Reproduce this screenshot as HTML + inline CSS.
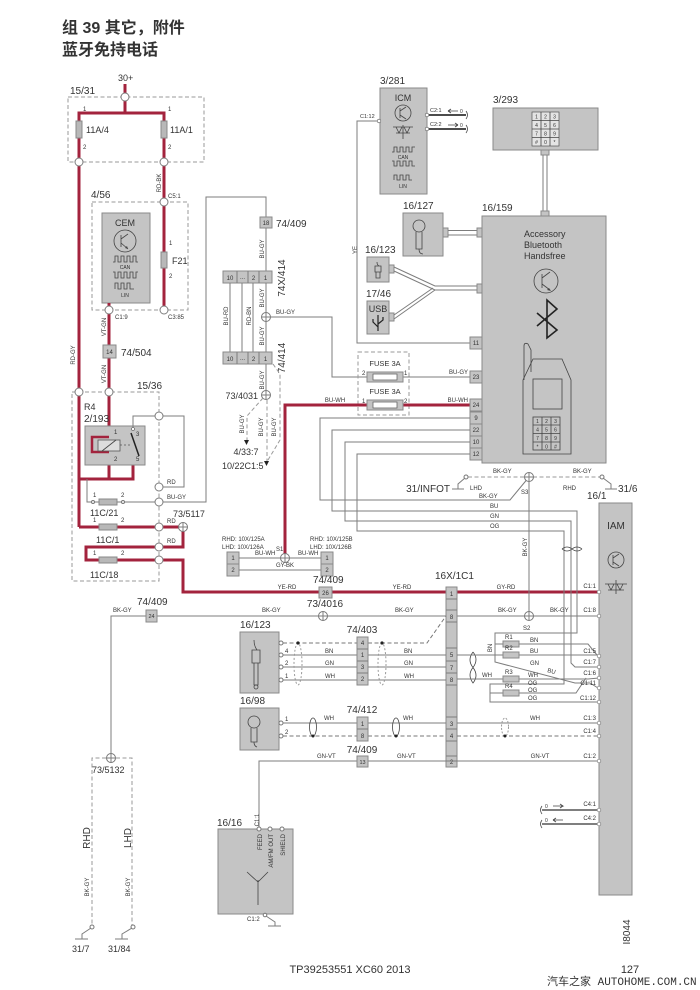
<!DOCTYPE html>
<html><head><meta charset="utf-8"><style>
html,body{margin:0;padding:0;background:#fff;width:700px;height:990px;overflow:hidden}
svg{display:block}
</style></head><body>
<svg width="700" height="990" viewBox="0 0 700 990" xmlns="http://www.w3.org/2000/svg" font-family="Liberation Sans, Noto Sans CJK SC, sans-serif">
<style>
.g{stroke:#7d7d7d;stroke-width:1;fill:none}
.r{stroke:#a3233d;stroke-width:3;fill:none}
.d{stroke:#9a9a9a;stroke-width:1;fill:none;stroke-dasharray:4 2.5}
.bx{fill:#c4c4c4;stroke:#8a8a8a;stroke-width:1}
.c{fill:#fff;stroke:#7d7d7d;stroke-width:1}
.k{stroke:#444;stroke-width:0.8;fill:none}
.th{stroke:#333;stroke-width:1.8;fill:none}
text{fill:#333}
.s{font-size:6px}
.s7{font-size:7px}
.m{font-size:10px}
</style>

<!-- Title -->
<text x="62" y="33" font-size="16" font-weight="bold" fill="#111">组 39 其它，附件</text>
<text x="62" y="55" font-size="16" font-weight="bold" fill="#111">蓝牙免持电话</text>

<!-- 15/31 -->
<text x="118" y="81" font-size="9">30+</text>
<rect x="68" y="97" width="136" height="65" class="d"/>
<text x="70" y="94" class="m">15/31</text>
<path class="r" d="M125,84V113M79,527V113H164V310"/>
<rect x="76" y="121" width="6" height="17" fill="#b8b8b8" stroke="#888"/>
<rect x="161" y="121" width="6" height="17" fill="#b8b8b8" stroke="#888"/>
<text x="83" y="111" class="s">1</text><text x="83" y="149" class="s">2</text>
<text x="86" y="133" font-size="9">11A/4</text>
<text x="168" y="111" class="s">1</text><text x="168" y="149" class="s">2</text>
<text x="170" y="133" font-size="9">11A/1</text>
<circle class="c" cx="125" cy="97" r="4"/>
<circle class="c" cx="79" cy="162" r="4"/>
<circle class="c" cx="164" cy="162" r="4"/>
<text transform="rotate(-90 161 183)" x="161" y="183" text-anchor="middle" class="s">RD-BK</text>

<!-- CEM 4/56 -->
<rect x="92" y="202" width="96" height="108" class="d"/>
<text x="91" y="198" class="m">4/56</text>
<rect x="102" y="213" width="48" height="90" class="bx"/>
<text x="125" y="226" font-size="9" text-anchor="middle">CEM</text>
<circle cx="125" cy="241" r="11" class="k"/>
<path class="k" d="M121,235V247M121,239L128,234M121,243L128,249"/>
<path d="M128,249l-3,-1l2,-2z" fill="#444"/>
<path class="k" d="M113,262h2v-6h3v6h3v-6h3v6h3v-6h3v6h3v-6h3v6h2"/>
<text x="125" y="269" font-size="5" text-anchor="middle">CAN</text>
<path class="k" d="M113,272h2v6h3v-6h3v6h3v-6h3v6h3v-6h3v6h3v-6h2"/>
<path class="k" d="M115,289v-6h3v6h3v-6h3v6h3v-6h3v6h4"/>
<text x="125" y="297" font-size="5" text-anchor="middle">LIN</text>
<rect x="161" y="252" width="6" height="16" fill="#b8b8b8" stroke="#888"/>
<text x="169" y="245" class="s">1</text><text x="169" y="278" class="s">2</text>
<text x="172" y="264" font-size="9">F21</text>
<circle class="c" cx="164" cy="202" r="4"/>
<text x="168" y="198" class="s">C5:1</text>
<circle class="c" cx="164" cy="310" r="4"/>
<text x="168" y="319" class="s">C3:85</text>

<!-- VT-GN wire and relay -->
<path class="r" d="M109,303V479M79,479H133V462"/>
<circle class="c" cx="109" cy="310" r="4"/>
<text x="115" y="319" class="s">C1:9</text>
<text transform="rotate(-90 106 327)" x="106" y="327" text-anchor="middle" class="s">VT-GN</text>
<text transform="rotate(-90 106 374)" x="106" y="374" text-anchor="middle" class="s">VT-GN</text>
<text transform="rotate(-90 75 355)" x="75" y="355" text-anchor="middle" class="s">RD-GY</text>
<rect x="103" y="345" width="13" height="13" class="bx"/>
<text x="109.5" y="354" font-size="6" text-anchor="middle">14</text>
<text x="121" y="356" class="m">74/504</text>

<rect x="72" y="392" width="87" height="189" class="d"/>
<text x="137" y="389" class="m">15/36</text>
<circle class="c" cx="79" cy="392" r="4"/>
<circle class="c" cx="109" cy="392" r="4"/>
<text x="84" y="410" font-size="9">R4</text>
<text x="84" y="422" class="m">2/193</text>
<rect x="85" y="426" width="60" height="39" class="bx"/>
<path class="r" d="M109,437H92V452H109" style="stroke-width:2.5"/>
<rect x="98" y="440" width="22" height="11" fill="#ddd" stroke="#555" stroke-width="0.8"/>
<path class="k" d="M102,451L116,440"/>
<path d="M120,445H131" stroke="#555" stroke-width="0.8" stroke-dasharray="2 2"/>
<path stroke="#222" stroke-width="1.5" d="M131,433L139,456"/>
<text x="114" y="434" class="s">1</text><text x="114" y="461" class="s">2</text>
<text x="136" y="436" class="s">3</text><text x="136" y="461" class="s">5</text>
<path class="g" d="M133,428V416H155M163,416H184V487H163"/>
<circle cx="133" cy="429" r="1.5" fill="#fff" stroke="#555" stroke-width="0.6"/>
<circle class="c" cx="159" cy="416" r="4"/>
<circle class="c" cx="159" cy="487" r="4"/>
<text x="167" y="484" class="s">RD</text>
<!-- 11C/21 -->
<path class="g" d="M87,479V502H155M163,502H206V197H266V217"/>
<rect x="99" y="499" width="18" height="6" fill="#b8b8b8" stroke="#888"/>
<circle cx="93" cy="502" r="1.5" fill="#fff" stroke="#777"/>
<circle cx="123" cy="502" r="1.5" fill="#fff" stroke="#777"/>
<text x="93" y="497" class="s">1</text><text x="121" y="497" class="s">2</text>
<text x="90" y="516" font-size="9">11C/21</text>
<circle class="c" cx="159" cy="502" r="4"/>
<text x="167" y="499" class="s">BU-GY</text>
<!-- 11C/1 -->
<path class="r" d="M79,527H155M163,527H183V547H163M155,547H86V560H155M163,560H183V592H599"/>
<rect x="99" y="524" width="18" height="6" fill="#b8b8b8" stroke="#888"/>
<text x="93" y="522" class="s">1</text><text x="121" y="522" class="s">2</text>
<text x="96" y="543" font-size="9">11C/1</text>
<circle class="c" cx="159" cy="527" r="4"/>
<text x="167" y="523" class="s">RD</text>
<circle class="c" cx="159" cy="547" r="4"/>
<text x="167" y="543" class="s">RD</text>
<rect x="99" y="557" width="18" height="6" fill="#b8b8b8" stroke="#888"/>
<text x="93" y="555" class="s">1</text><text x="121" y="555" class="s">2</text>
<text x="90" y="578" font-size="9">11C/18</text>
<circle class="c" cx="159" cy="560" r="4"/>
<circle cx="183" cy="527" r="4.5" fill="#fff" stroke="#777"/><path class="g" d="M178.5,527h9M183,522.5v9"/>
<text x="173" y="517" font-size="9">73/5117</text>

<!-- 74X/414 area -->
<rect x="260" y="217" width="12" height="11" class="bx"/>
<text x="266" y="225" font-size="6" text-anchor="middle">18</text>
<text x="276" y="227" class="m">74/409</text>
<path class="g" d="M266,228V271"/>
<text transform="rotate(-90 264 249)" x="264" y="249" text-anchor="middle" class="s">BU-GY</text>
<rect x="223" y="271" width="49" height="12" class="bx"/>
<path class="g" d="M237,271v12M248,271v12M259,271v12"/>
<text x="230" y="280" font-size="6" text-anchor="middle">10</text>
<text x="242.5" y="279" font-size="6" text-anchor="middle">...</text>
<text x="253.5" y="280" font-size="6" text-anchor="middle">2</text>
<text x="265.5" y="280" font-size="6" text-anchor="middle">1</text>
<text transform="rotate(-90 285 278)" x="285" y="278" text-anchor="middle" class="m">74X/414</text>
<path class="g" d="M230,283V352M242,283V352M253,283V352M266,283V352"/>
<text transform="rotate(-90 228 316)" x="228" y="316" text-anchor="middle" class="s">BU-RD</text>
<text transform="rotate(-90 251 316)" x="251" y="316" text-anchor="middle" class="s">RD-BN</text>
<text transform="rotate(-90 264 298)" x="264" y="298" text-anchor="middle" class="s">BU-GY</text>
<text transform="rotate(-90 264 336)" x="264" y="336" text-anchor="middle" class="s">BU-GY</text>
<path class="g" d="M266,317H332V377H367"/>
<circle cx="266" cy="317" r="4.5" fill="#fff" stroke="#777"/><path class="g" d="M261.5,317h9M266,312.5v9"/>
<text x="276" y="314" class="s">BU-GY</text>
<rect x="223" y="352" width="49" height="12" class="bx"/>
<path class="g" d="M237,352v12M248,352v12M259,352v12"/>
<text x="230" y="361" font-size="6" text-anchor="middle">10</text>
<text x="242.5" y="360" font-size="6" text-anchor="middle">...</text>
<text x="253.5" y="361" font-size="6" text-anchor="middle">2</text>
<text x="265.5" y="361" font-size="6" text-anchor="middle">1</text>
<text transform="rotate(-90 285 358)" x="285" y="358" text-anchor="middle" class="m">74/414</text>
<path class="g" d="M266,364V391"/>
<text transform="rotate(-90 264 380)" x="264" y="380" text-anchor="middle" class="s">BU-GY</text>
<circle cx="266" cy="395" r="4.5" fill="#fff" stroke="#777"/><path class="g" d="M261.5,395h9M266,390.5v9"/>
<text x="258" y="399" font-size="9" text-anchor="end">73/4031</text>
<path class="d" d="M263,398L247,416V441M267,400V461M273,364L280,374V440L268,460"/>
<path d="M244,440h5l-2.5,5z" fill="#222"/>
<path d="M264,461h5l-2.5,5z" fill="#222"/>
<text transform="rotate(-90 244 424)" x="244" y="424" text-anchor="middle" class="s">BU-GY</text>
<text transform="rotate(-90 263 427)" x="263" y="427" text-anchor="middle" class="s">BU-GY</text>
<text transform="rotate(-90 276 427)" x="276" y="427" text-anchor="middle" class="s">BU-GY</text>
<text x="246" y="455" font-size="9" text-anchor="middle">4/33:7</text>
<text x="222" y="469" font-size="9">10/22C1:5</text>

<!-- Fuses 3A -->
<rect x="358" y="352" width="51" height="63" class="d"/>
<text x="385" y="366" font-size="7.5" text-anchor="middle">FUSE 3A</text>
<path class="g" d="M403,377H470"/>
<rect x="367" y="372" width="36" height="10" class="bx"/>
<rect x="373" y="374" width="24" height="6" fill="#fff" stroke="#666" stroke-width="0.8"/>
<text x="362" y="375" class="s">2</text><text x="404" y="375" class="s">1</text>
<text x="385" y="394" font-size="7.5" text-anchor="middle">FUSE 3A</text>
<path class="r" d="M285,557V405H470"/>
<rect x="367" y="400" width="36" height="10" class="bx"/>
<rect x="373" y="402" width="24" height="6" fill="#fff" stroke="#666" stroke-width="0.8"/>
<text x="362" y="403" class="s">1</text><text x="404" y="403" class="s">2</text>
<text x="335" y="402" class="s" text-anchor="middle">BU-WH</text>
<text x="468" y="402" class="s" text-anchor="end">BU-WH</text>
<text x="468" y="374" class="s" text-anchor="end">BU-GY</text>

<!-- ICM -->
<text x="380" y="84" class="m">3/281</text>
<rect x="380" y="88" width="47" height="106" class="bx"/>
<text x="403" y="101" font-size="9" text-anchor="middle">ICM</text>
<circle cx="403" cy="113" r="8" class="k"/>
<path class="k" d="M400,108V118M400,111L406,107M400,115L406,119"/>
<path class="k" d="M393,127h20M396,127l3,6l3,-6M404,127l3,6l3,-6M396,133h14M403,125v14"/>
<path class="k" d="M392,152h2v-5h3v5h3v-5h3v5h3v-5h3v5h3v-5h3"/>
<text x="403" y="159" font-size="5" text-anchor="middle">CAN</text>
<path class="k" d="M392,161h2v5h3v-5h3v5h3v-5h3v5h3v-5h3v5h3"/>
<path class="k" d="M394,180v-5h3v5h3v-5h3v5h3v-5h3v5h3"/>
<text x="403" y="188" font-size="5" text-anchor="middle">LIN</text>
<path class="th" d="M427,115H466M427,129H466"/>
<circle cx="427" cy="115" r="1.8" fill="#fff" stroke="#555" stroke-width="0.6"/>
<circle cx="427" cy="129" r="1.8" fill="#fff" stroke="#555" stroke-width="0.6"/>
<text x="430" y="112" font-size="5.5">C2:1</text>
<text x="430" y="126" font-size="5.5">C2:2</text>
<path class="k" d="M448,111h10M448,111l3,-2M448,111l3,2M448,125h10M458,125l-3,-2M458,125l-3,2"/>
<text x="460" y="113" font-size="5">0</text><text x="460" y="127" font-size="5">0</text>
<path class="k" d="M466,111q3,4 0,8M466,125q3,4 0,8"/>
<circle cx="379" cy="121" r="1.8" fill="#fff" stroke="#555" stroke-width="0.6"/>
<text x="360" y="118" font-size="5.5">C1:12</text>
<path class="g" d="M377,121H357V343H470"/>
<text transform="rotate(-90 357 250)" x="357" y="250" text-anchor="middle" class="s">YE</text>

<!-- 3/293 keypad -->
<text x="493" y="103" class="m">3/293</text>
<rect x="493" y="108" width="105" height="42" class="bx"/>
<rect x="532" y="112" width="27" height="34" fill="#e4e4e4" stroke="#555" stroke-width="0.7"/>
<path class="k" d="M541,112v34M550,112v34M532,120.5h27M532,129h27M532,137.5h27"/>
<g font-size="5" text-anchor="middle">
<text x="536.5" y="118.5">1</text><text x="545.5" y="118.5">2</text><text x="554.5" y="118.5">3</text>
<text x="536.5" y="127">4</text><text x="545.5" y="127">5</text><text x="554.5" y="127">6</text>
<text x="536.5" y="135.5">7</text><text x="545.5" y="135.5">8</text><text x="554.5" y="135.5">9</text>
<text x="536.5" y="144">#</text><text x="545.5" y="144">0</text><text x="554.5" y="144">*</text>
</g>
<rect x="541" y="150" width="8" height="5" class="bx"/>
<path class="g" d="M543,155V211M547,155V211"/>

<!-- 16/159 -->
<text x="482" y="211" class="m">16/159</text>
<rect x="482" y="216" width="124" height="247" class="bx"/>
<rect x="541" y="211" width="8" height="5" class="bx"/>
<text x="524" y="237" font-size="9">Accessory</text>
<text x="524" y="248" font-size="9">Bluetooth</text>
<text x="524" y="259" font-size="9">Handsfree</text>
<circle cx="546" cy="281" r="12" class="k"/>
<path class="k" d="M542,274V288M542,278L550,272M542,284L550,290"/>
<path d="M551,291l-4,-1l2,-2z" fill="#444"/>
<path stroke="#222" stroke-width="1.6" fill="none" d="M537,313L557,330L547,338V300L557,309L537,326"/>
<path class="k" d="M524,380V346Q524,342 528,344L531,350V372"/>
<path class="k" d="M533,359H562L571,380V454H523V380Z"/>
<rect x="533" y="379" width="29" height="30" class="k"/>
<rect x="533" y="417" width="27" height="33" class="k"/>
<path class="k" d="M542,417v33M551,417v33M533,425h27M533,433.5h27M533,442h27"/>
<g font-size="5" text-anchor="middle">
<text x="537.5" y="423">1</text><text x="546.5" y="423">2</text><text x="555.5" y="423">3</text>
<text x="537.5" y="431.5">4</text><text x="546.5" y="431.5">5</text><text x="555.5" y="431.5">6</text>
<text x="537.5" y="440">7</text><text x="546.5" y="440">8</text><text x="555.5" y="440">9</text>
<text x="537.5" y="448.5">*</text><text x="546.5" y="448.5">0</text><text x="555.5" y="448.5">#</text>
</g>
<!-- pins -->
<g font-size="6" text-anchor="middle">
<rect x="470" y="337" width="12" height="12" class="bx"/><text x="476" y="345">11</text>
<rect x="470" y="371" width="12" height="12" class="bx"/><text x="476" y="379">23</text>
<rect x="470" y="399" width="12" height="12" class="bx"/><text x="476" y="407">24</text>
<rect x="470" y="412" width="12" height="12" class="bx"/><text x="476" y="420">9</text>
<rect x="470" y="424" width="12" height="12" class="bx"/><text x="476" y="432">22</text>
<rect x="470" y="436" width="12" height="12" class="bx"/><text x="476" y="444">10</text>
<rect x="470" y="448" width="12" height="12" class="bx"/><text x="476" y="456">12</text>
</g>

<!-- 16/127 mic -->
<text x="403" y="209" class="m">16/127</text>
<rect x="403" y="213" width="40" height="43" class="bx"/>
<circle cx="419" cy="226" r="6" class="k"/>
<path class="k" d="M416,232V249H422V232M419,249q0,5 4,5"/>
<rect x="443" y="228" width="5" height="9" class="bx"/>
<path class="g" d="M448,230.5H477M448,235H477"/>
<rect x="477" y="228" width="5" height="9" class="bx"/>
<!-- 16/123 top -->
<text x="365" y="253" class="m">16/123</text>
<rect x="367" y="257" width="22" height="25" class="bx"/>
<path class="k" d="M377,262q0,3 2,4M375,266h6v6h-6zM376,272h4v6h-4z"/>
<rect x="389" y="265" width="5" height="8" class="bx"/>
<!-- 17/46 USB -->
<text x="366" y="297" class="m">17/46</text>
<rect x="367" y="301" width="22" height="33" class="bx"/>
<text x="378" y="312" font-size="9" text-anchor="middle">USB</text>
<path stroke="#222" stroke-width="1.2" fill="none" d="M378,315V331M378,327L373,322V319M378,324L383,320V317"/>
<rect x="389" y="313" width="5" height="8" class="bx"/>
<path class="g" d="M394,267L435,286H477M394,271L435,290H477M394,315L433,288M394,319L435,290"/>
<rect x="477" y="284" width="5" height="9" class="bx"/>

<!-- pin wires from 16/159 -->
<path class="g" d="M470,418H320V500H510L529,477"/>
<path class="g" d="M470,430H332V511H577V633H495V662L575,683H590L598,688"/>
<path class="g" d="M470,442H345V521H571V663L575,667H599"/>
<path class="g" d="M470,454H357V531H564V684H490V702H599"/>
<text x="479" y="498" class="s">BK-GY</text>
<text x="490" y="508" class="s">BU</text>
<text x="490" y="518" class="s">GN</text>
<text x="490" y="528" class="s">OG</text>
<path class="k" d="M562,549q5,-4 10,0q5,4 10,0M562,549q5,4 10,0q5,-4 10,0"/>

<!-- ground line top of IAM -->
<path class="d" d="M468,477H600"/>
<circle cx="466" cy="477" r="2" fill="#fff" stroke="#777"/>
<circle cx="602" cy="477" r="2" fill="#fff" stroke="#777"/>
<path class="g" d="M465,478L458,484V489M452,489H464M603,478L611,484V489M605,489H617"/>
<text x="450" y="492" class="m" text-anchor="end">31/INFOT</text>
<text x="618" y="492" class="m">31/6</text>
<text x="493" y="473" class="s">BK-GY</text>
<text x="573" y="473" class="s">BK-GY</text>
<text x="470" y="490" class="s">LHD</text>
<text x="563" y="490" class="s">RHD</text>
<text x="521" y="494" class="s">S3</text>
<path class="g" d="M529,477V616"/>
<circle cx="529" cy="477" r="4.5" fill="#fff" stroke="#777"/><path class="g" d="M524.5,477h9M529,472.5v9"/>
<text transform="rotate(-90 527 547)" x="527" y="547" text-anchor="middle" class="s">BK-GY</text>

<!-- IAM -->
<text x="587" y="499" class="m">16/1</text>
<rect x="599" y="503" width="33" height="392" class="bx"/>
<text x="616" y="529" class="m" text-anchor="middle">IAM</text>
<circle cx="616" cy="560" r="8" class="k"/>
<path class="k" d="M613,555V565M613,558L619,554M613,562L619,566"/>
<path class="k" d="M605,584h22M608,584l3,6l3,-6M617,584l3,6l3,-6M608,590h16M616,580v14"/>

<!-- 10X connectors -->
<text x="222" y="541" font-size="6">RHD: 10X/125A</text>
<text x="222" y="549" font-size="6">LHD: 10X/126A</text>
<text x="310" y="541" font-size="6">RHD: 10X/125B</text>
<text x="310" y="549" font-size="6">LHD: 10X/126B</text>
<rect x="227" y="552" width="12" height="12" class="bx"/><rect x="227" y="564" width="12" height="12" class="bx"/>
<rect x="321" y="552" width="12" height="12" class="bx"/><rect x="321" y="564" width="12" height="12" class="bx"/>
<g font-size="6" text-anchor="middle">
<text x="233" y="560">1</text><text x="233" y="572">2</text><text x="327" y="560">1</text><text x="327" y="572">2</text>
</g>
<path class="g" d="M239,558H321M239,570H321"/>
<circle cx="285" cy="558" r="4.5" fill="#fff" stroke="#777"/><path class="g" d="M280.5,558h9M285,553.5v9"/>
<text x="255" y="555" class="s">BU-WH</text>
<text x="298" y="555" class="s">BU-WH</text>
<text x="276" y="551" class="s">S1</text>
<text x="285" y="567" class="s" text-anchor="middle">GY-BK</text>

<!-- main red labels -->
<text x="313" y="583" class="m">74/409</text>
<rect x="319" y="587" width="13" height="11" class="bx"/>
<text x="325.5" y="595" font-size="6" text-anchor="middle">26</text>
<text x="287" y="589" class="s" text-anchor="middle">YE-RD</text>
<text x="402" y="589" class="s" text-anchor="middle">YE-RD</text>
<text x="506" y="589" class="s" text-anchor="middle">GY-RD</text>

<!-- BK-GY y=616 -->
<path class="g" d="M111,754V616H599"/>
<rect x="146" y="610" width="11" height="12" class="bx"/>
<text x="151.5" y="618" font-size="5.5" text-anchor="middle">24</text>
<text x="137" y="605" class="m">74/409</text>
<text x="113" y="612" class="s">BK-GY</text>
<circle cx="323" cy="616" r="4.5" fill="#fff" stroke="#777"/><path class="g" d="M318.5,616h9M323,611.5v9"/>
<text x="325" y="607" class="m" text-anchor="middle">73/4016</text>
<text x="262" y="612" class="s">BK-GY</text>
<text x="395" y="612" class="s">BK-GY</text>
<text x="498" y="612" class="s">BK-GY</text>
<text x="550" y="612" class="s">BK-GY</text>
<circle cx="529" cy="616" r="4.5" fill="#fff" stroke="#777"/><path class="g" d="M524.5,616h9M529,611.5v9"/>
<text x="523" y="630" class="s">S2</text>

<!-- 73/5132 -->
<circle cx="111" cy="758" r="4.5" fill="#fff" stroke="#777"/><path class="g" d="M106.5,758h9M111,753.5v9"/>
<path class="d" d="M106,758H92V925M116,758H132V925"/>
<text x="92" y="773" font-size="9">73/5132</text>
<text transform="rotate(-90 90 838)" x="90" y="838" text-anchor="middle" class="m">RHD</text>
<text transform="rotate(-90 131 838)" x="131" y="838" text-anchor="middle" class="m">LHD</text>
<text transform="rotate(-90 89 887)" x="89" y="887" text-anchor="middle" class="s">BK-GY</text>
<text transform="rotate(-90 130 887)" x="130" y="887" text-anchor="middle" class="s">BK-GY</text>
<circle cx="92" cy="927" r="2" fill="#fff" stroke="#777"/>
<circle cx="133" cy="927" r="2" fill="#fff" stroke="#777"/>
<path class="g" d="M91,928L82,934V939M75,939H88M132,928L122,934V939M115,939H128"/>
<text x="72" y="952" font-size="9">31/7</text>
<text x="108" y="952" font-size="9">31/84</text>

<!-- 16X/1C1 column -->
<text x="435" y="579" class="m">16X/1C1</text>
<rect x="446" y="587" width="11" height="180" class="bx"/>
<path class="g" d="M446,599h11M446,610h11M446,622h11M446,648h11M446,661h11M446,673h11M446,685h11M446,717h11M446,729h11M446,741h11M446,756h11"/>
<g font-size="6" text-anchor="middle">
<text x="451.5" y="596">1</text><text x="451.5" y="619">8</text><text x="451.5" y="657">5</text>
<text x="451.5" y="670">7</text><text x="451.5" y="682">8</text><text x="451.5" y="726">3</text>
<text x="451.5" y="738">4</text><text x="451.5" y="764">2</text>
</g>

<!-- 16/123 lower -->
<text x="240" y="628" class="m">16/123</text>
<rect x="240" y="632" width="39" height="61" class="bx"/>
<path class="k" d="M254,640q0,6 3,10M252,650h8v13h-8zM254,663h4v22h-4z"/>
<circle cx="256" cy="687" r="2" class="k"/>
<path class="d" d="M283,643H357M368,643H427L446,616" style="stroke:#777"/>
<path class="g" d="M283,655H357M368,655H446M283,667H357M368,667H446M283,680H357M368,680H446"/>
<circle cx="281" cy="643" r="2" fill="#fff" stroke="#777"/>
<circle cx="281" cy="655" r="2" fill="#fff" stroke="#777"/>
<circle cx="281" cy="667" r="2" fill="#fff" stroke="#777"/>
<circle cx="281" cy="680" r="2" fill="#fff" stroke="#777"/>
<text x="285" y="653" class="s">4</text><text x="285" y="665" class="s">2</text><text x="285" y="678" class="s">1</text>
<ellipse cx="298" cy="664" rx="4" ry="21" class="d" style="stroke-dasharray:2 2"/>
<ellipse cx="382" cy="664" rx="4" ry="21" class="d" style="stroke-dasharray:2 2"/>
<circle cx="298" cy="643" r="1.6" fill="#222"/><circle cx="382" cy="643" r="1.6" fill="#222"/>
<text x="362" y="633" class="m" text-anchor="middle">74/403</text>
<rect x="357" y="637" width="11" height="48" class="bx"/>
<path class="g" d="M357,649h11M357,661h11M357,673h11"/>
<g font-size="6" text-anchor="middle">
<text x="362.5" y="645">4</text><text x="362.5" y="657">1</text><text x="362.5" y="669">3</text><text x="362.5" y="681">2</text>
</g>
<text x="325" y="653" class="s">BN</text><text x="325" y="665" class="s">GN</text><text x="325" y="678" class="s">WH</text>
<text x="404" y="653" class="s">BN</text><text x="404" y="665" class="s">GN</text><text x="404" y="678" class="s">WH</text>
<path class="k" d="M473,652q-6,8 0,15.5q6,8 0,15.5q-6,-8 0,-15.5q6,-8 0,-15.5"/>

<!-- right side resistor network -->
<path class="g" d="M495,644H588L597,655M457,655H599M457,679H588L599,678M490,693H576L586,678"/>
<path class="g" d="M457,723H599M259,829V761H599"/>
<rect x="503" y="641" width="16" height="6" class="bx"/>
<rect x="503" y="652" width="16" height="6" class="bx"/>
<rect x="503" y="676" width="16" height="6" class="bx"/>
<rect x="503" y="690" width="16" height="6" class="bx"/>
<text x="505" y="639" class="s">R1</text><text x="505" y="650" class="s">R2</text>
<text x="505" y="674" class="s">R3</text><text x="505" y="688" class="s">R4</text>
<text x="530" y="642" class="s">BN</text><text x="530" y="653" class="s">BU</text>
<text x="530" y="665" class="s">GN</text><text x="482" y="677" class="s">WH</text>
<text x="528" y="677" class="s">WH</text><text x="528" y="685" class="s">OG</text>
<text x="528" y="692" class="s">OG</text><text x="528" y="700" class="s">OG</text>
<text transform="rotate(15 547 672)" x="547" y="672" class="s">BU</text>
<text transform="rotate(-90 492 648)" x="492" y="648" text-anchor="middle" class="s">BN</text>
<text x="530" y="720" class="s">WH</text>
<text x="540" y="758" class="s" text-anchor="middle">GN-VT</text>
<!-- IAM pins -->
<g fill="#fff" stroke="#777" stroke-width="0.7">
<circle cx="599" cy="592" r="1.8"/><circle cx="599" cy="616" r="1.8"/><circle cx="599" cy="656" r="1.8"/>
<circle cx="599" cy="667" r="1.8"/><circle cx="599" cy="678" r="1.8"/><circle cx="599" cy="688" r="1.8"/>
<circle cx="599" cy="702" r="1.8"/><circle cx="599" cy="723" r="1.8"/><circle cx="599" cy="736" r="1.8"/>
<circle cx="599" cy="761" r="1.8"/><circle cx="599" cy="810" r="1.8"/><circle cx="599" cy="824" r="1.8"/>
</g>
<g font-size="6" text-anchor="end">
<text x="596" y="588">C1:1</text><text x="596" y="612">C1:8</text><text x="596" y="653">C1:5</text>
<text x="596" y="664">C1:7</text><text x="596" y="675">C1:6</text><text x="596" y="685">C1:11</text>
<text x="596" y="700">C1:12</text><text x="596" y="720">C1:3</text><text x="596" y="733">C1:4</text>
<text x="596" y="758">C1:2</text><text x="596" y="806">C4:1</text><text x="596" y="820">C4:2</text>
</g>
<path class="th" d="M542,810H597M542,824H597" style="stroke-width:1.3"/>
<path class="k" d="M553,806h10l-3,-2M563,806l-3,2M553,820h10M553,820l3,-2M553,820l3,2"/>
<text x="545" y="808" font-size="5">0</text><text x="545" y="822" font-size="5">0</text>
<path class="k" d="M542,806q-3,4 0,8M542,820q-3,4 0,8"/>

<!-- 16/98 -->
<text x="240" y="704" class="m">16/98</text>
<rect x="240" y="708" width="39" height="42" class="bx"/>
<circle cx="254" cy="722" r="6" class="k"/>
<path class="k" d="M251,728V742H257V728M254,742q0,4 3,5"/>
<circle cx="281" cy="723" r="2" fill="#fff" stroke="#777"/>
<circle cx="281" cy="736" r="2" fill="#fff" stroke="#777"/>
<text x="285" y="721" class="s">1</text><text x="285" y="734" class="s">2</text>
<path class="g" d="M283,723H357M368,723H446"/>
<path class="d" d="M283,736H357M368,736H446M457,736H599" style="stroke:#777"/>
<text x="362" y="713" class="m" text-anchor="middle">74/412</text>
<rect x="357" y="717" width="11" height="24" class="bx"/>
<path class="g" d="M357,729h11"/>
<text x="362.5" y="726" font-size="6" text-anchor="middle">1</text>
<text x="362.5" y="738" font-size="6" text-anchor="middle">8</text>
<ellipse cx="313" cy="727" rx="3.5" ry="9" class="k"/>
<ellipse cx="396" cy="727" rx="3.5" ry="9" class="k"/>
<ellipse cx="505" cy="727" rx="3.5" ry="9" class="d" style="stroke-dasharray:2 1.5"/>
<circle cx="313" cy="736" r="1.5" fill="#222"/><circle cx="396" cy="736" r="1.5" fill="#222"/><circle cx="505" cy="736" r="1.5" fill="#222"/>
<text x="324" y="720" class="s">WH</text><text x="403" y="720" class="s">WH</text>

<!-- 74/409 pin 13 -->
<text x="362" y="753" class="m" text-anchor="middle">74/409</text>
<rect x="357" y="756" width="11" height="11" class="bx"/>
<text x="362.5" y="764" font-size="5.5" text-anchor="middle">13</text>
<text x="317" y="758" class="s">GN-VT</text>
<text x="397" y="758" class="s">GN-VT</text>

<!-- 16/16 antenna -->
<text x="217" y="826" class="m">16/16</text>
<rect x="218" y="829" width="75" height="85" class="bx"/>
<circle cx="259" cy="829" r="2" fill="#fff" stroke="#777"/>
<circle cx="270" cy="829" r="2" fill="#fff" stroke="#777"/>
<circle cx="282" cy="829" r="2" fill="#fff" stroke="#777"/>
<text transform="rotate(-90 259 820)" x="259" y="820" text-anchor="middle" class="s">C1:1</text>
<text transform="rotate(-90 262 834)" x="262" y="834" text-anchor="end" class="s">FEED</text>
<text transform="rotate(-90 273 834)" x="273" y="834" text-anchor="end" class="s">AM/FM OUT</text>
<text transform="rotate(-90 285 834)" x="285" y="834" text-anchor="end" class="s">SHIELD</text>
<path class="k" d="M258,880V905M258,882L247,872M258,882L268,872"/>
<circle cx="265" cy="915" r="1.8" fill="#fff" stroke="#777"/>
<path class="g" d="M266,916L275,922V926M268,926H281"/>
<text x="247" y="921" class="s">C1:2</text>

<!-- footer -->
<text x="350" y="973" font-size="11" text-anchor="middle">TP39253551 XC60 2013</text>
<text x="630" y="973" font-size="11" text-anchor="middle">127</text>
<text x="547" y="985" font-size="11" font-family="Liberation Mono, Noto Sans CJK SC, monospace" fill="#111">汽车之家 AUTOHOME.COM.CN</text>
<text transform="rotate(-90 630 932)" x="630" y="932" text-anchor="middle" class="m">I8044</text>
</svg>
</body></html>
